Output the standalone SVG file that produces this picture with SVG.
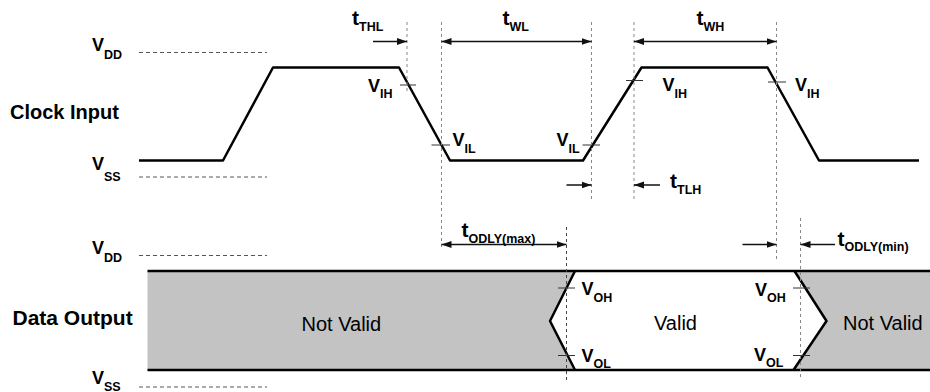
<svg xmlns="http://www.w3.org/2000/svg" width="930" height="392" viewBox="0 0 930 392">
  <defs>
    <marker id="ah" markerUnits="userSpaceOnUse" markerWidth="11" markerHeight="8" refX="10" refY="4" orient="auto-start-reverse">
      <path d="M0,0.5 L10,4 L0,7.5 z" fill="#111"/>
    </marker>
    <style>
      text { font-family: "Liberation Sans", Arial, sans-serif; fill: #000; }
      .lbl { font-size: 20px; font-weight: bold; }
      .v { font-size: 18px; font-weight: bold; }
      .t { font-size: 21px; font-weight: bold; }
      .s { font-size: 12.5px; font-weight: bold; }
      .state { font-size: 20px; }
      .wave { fill: none; stroke: #000; stroke-width: 2.5; stroke-linejoin: round; }
      .tick { stroke: #333; stroke-width: 1; }
      .ref { stroke: #555; stroke-width: 1; stroke-dasharray: 4 3; }
      .guide { stroke: #888; stroke-width: 1; stroke-dasharray: 3 3; }
      .guide2 { stroke: #444; stroke-width: 1; stroke-dasharray: 3 3; }
      .dim { stroke: #111; stroke-width: 1.5; fill: none; }
    </style>
  </defs>
  <rect width="930" height="392" fill="#fff"/>

  <!-- reference levels -->
  <g id="levels">
    <line class="ref" x1="139" y1="52.5" x2="267" y2="52.5"/>
    <line class="ref" x1="139" y1="177" x2="267" y2="177"/>
    <line class="ref" x1="139" y1="255.5" x2="267" y2="255.5"/>
    <line class="ref" x1="139" y1="387" x2="267" y2="387"/>
    <text class="v" x="92" y="51">V<tspan class="s" y="58.5">DD</tspan></text>
    <text class="v" x="92" y="170">V<tspan class="s" y="181">SS</tspan></text>
    <text class="v" x="92" y="253.5">V<tspan class="s" y="261.5">DD</tspan></text>
    <text class="v" x="92" y="384">V<tspan class="s" y="390.5">SS</tspan></text>
  </g>

  <!-- clock input -->
  <g id="clock-input">
    <text class="lbl" x="10" y="119">Clock Input</text>
    <polyline class="wave" points="139,160.5 223,160.5 273,67.5 399,67.5 450,160.5 583,160.5 641.5,67.5 767.5,67.5 819,160.5 919,160.5"/>
    <line class="tick" x1="400" y1="85" x2="416" y2="85"/>
    <line class="tick" x1="431.5" y1="145" x2="450" y2="145"/>
    <line class="tick" x1="582.5" y1="145" x2="600" y2="145"/>
    <line class="tick" x1="626" y1="80.5" x2="643" y2="80.5"/>
    <line class="tick" x1="768" y1="82" x2="786" y2="82"/>
    <text class="v" x="368" y="92">V<tspan class="s" y="98">IH</tspan></text>
    <text class="v" x="452.5" y="146">V<tspan class="s" y="152.5">IL</tspan></text>
    <text class="v" x="556.5" y="146">V<tspan class="s" y="152.5">IL</tspan></text>
    <text class="v" x="662.5" y="90.5">V<tspan class="s" y="97.5">IH</tspan></text>
    <text class="v" x="795" y="90.5">V<tspan class="s" y="97.5">IH</tspan></text>
  </g>

  <!-- data output -->
  <g id="data-output">
    <text class="lbl" x="12.5" y="325" style="font-size:21px">Data Output</text>
    <rect x="147.5" y="271" width="782.5" height="99" fill="#c3c3c3"/>
    <polygon points="575,271 794.5,271 826.5,321 793.5,370 575,370 550,321" fill="#fff"/>
    <line class="wave" x1="147.5" y1="271" x2="930" y2="271"/>
    <line class="wave" x1="147.5" y1="370" x2="930" y2="370"/>
    <polyline class="wave" points="575,271 550,321 575,370"/>
    <polyline class="wave" points="794.5,271 826.5,321 793.5,370"/>
    <line class="tick" x1="558" y1="288" x2="575" y2="288"/>
    <line class="tick" x1="558" y1="355.5" x2="575" y2="355.5"/>
    <line class="tick" x1="793" y1="288" x2="810" y2="288"/>
    <line class="tick" x1="793" y1="355.5" x2="810" y2="355.5"/>
    <text class="state" x="301.5" y="330.5">Not Valid</text>
    <text class="state" x="654" y="329.5">Valid</text>
    <text class="state" x="843" y="330">Not Valid</text>
    <text class="v" x="581.5" y="295">V<tspan class="s" y="301.5">OH</tspan></text>
    <text class="v" x="581.5" y="361.5">V<tspan class="s" y="368">OL</tspan></text>
    <text class="v" x="755" y="296">V<tspan class="s" y="302">OH</tspan></text>
    <text class="v" x="754" y="360.5">V<tspan class="s" y="367">OL</tspan></text>
  </g>

  <!-- timing guides and dimension arrows -->
  <g id="connectors">
    <line class="guide" x1="407" y1="22" x2="407" y2="92"/>
    <line class="guide" x1="441.5" y1="22" x2="441.5" y2="250"/>
    <line class="guide" x1="591.5" y1="22" x2="591.5" y2="202"/>
    <line class="guide" x1="634" y1="22" x2="634" y2="202"/>
    <line class="guide" x1="776.5" y1="22" x2="776.5" y2="262"/>
    <line class="guide2" x1="566.5" y1="227" x2="566.5" y2="380"/>
    <line class="guide" x1="800.5" y1="218" x2="800.5" y2="380"/>

    <line class="dim" x1="373" y1="41.5" x2="407" y2="41.5" marker-end="url(#ah)"/>
    <line class="dim" x1="441.5" y1="41.5" x2="591.5" y2="41.5" marker-start="url(#ah)" marker-end="url(#ah)"/>
    <line class="dim" x1="634" y1="41.5" x2="776.5" y2="41.5" marker-start="url(#ah)" marker-end="url(#ah)"/>
    <line class="dim" x1="566.5" y1="185" x2="591.5" y2="185" marker-end="url(#ah)"/>
    <line class="dim" x1="660" y1="185" x2="634" y2="185" marker-end="url(#ah)"/>
    <line class="dim" x1="441.5" y1="244.5" x2="566.5" y2="244.5" marker-start="url(#ah)" marker-end="url(#ah)"/>
    <line class="dim" x1="742.5" y1="244.5" x2="776.5" y2="244.5" marker-end="url(#ah)"/>
    <line class="dim" x1="835" y1="244.5" x2="800.5" y2="244.5" marker-end="url(#ah)"/>

    <text class="t" x="352" y="25">t<tspan class="s" y="31">THL</tspan></text>
    <text class="t" x="502.5" y="25">t<tspan class="s" y="31">WL</tspan></text>
    <text class="t" x="696.5" y="25">t<tspan class="s" y="31">WH</tspan></text>
    <text class="t" x="670" y="188">t<tspan class="s" y="194">TLH</tspan></text>
    <text class="t" x="461.5" y="237">t<tspan class="s" y="242.5">ODLY(max)</tspan></text>
    <text class="t" x="837.5" y="246">t<tspan class="s" y="251">ODLY(min)</tspan></text>
  </g>
</svg>
